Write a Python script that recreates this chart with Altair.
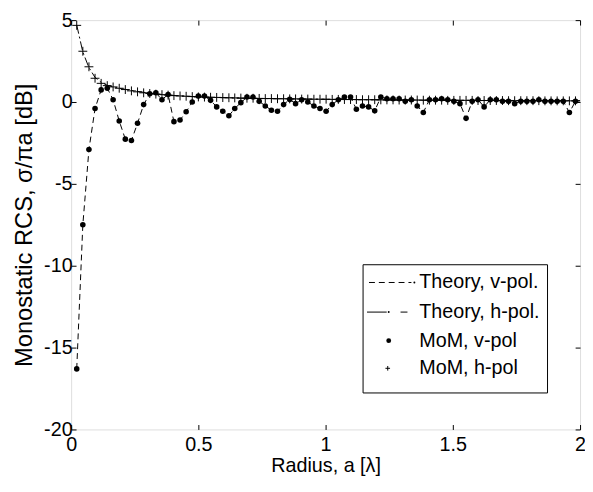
import altair as alt
import pandas as pd

# ---- data ----
radius = [0.022, 0.046, 0.070, 0.094, 0.118, 0.142, 0.165, 0.189, 0.213, 0.237,
          0.261, 0.285, 0.309, 0.333, 0.357, 0.381, 0.404, 0.428, 0.452, 0.476,
          0.500, 0.524, 0.548, 0.572, 0.596, 0.620, 0.643, 0.667, 0.691, 0.715,
          0.739, 0.763, 0.787, 0.811, 0.835, 0.859, 0.882, 0.906, 0.930, 0.954,
          0.978, 1.002, 1.026, 1.050, 1.074, 1.098, 1.121, 1.145, 1.169, 1.193,
          1.217, 1.241, 1.265, 1.289, 1.313, 1.337, 1.360, 1.384, 1.408, 1.432,
          1.456, 1.480, 1.504, 1.528, 1.552, 1.576, 1.599, 1.623, 1.647, 1.671,
          1.695, 1.719, 1.743, 1.767, 1.791, 1.815, 1.838, 1.862, 1.886, 1.910,
          1.934, 1.958, 1.982]

mom_v = [-16.3, -7.5, -2.9, -0.4, 0.74, 0.84, 0.14, -1.16, -2.27, -2.35,
         -1.3, -0.16, 0.5, 0.56, 0.14, 0.46, -1.2, -1.1, -0.6, 0.0,
         0.36, 0.36, 0.1, -0.3, -0.56, -0.84, -0.4, -0.04, 0.3, 0.3,
         0.04, -0.24, -0.5, -0.56, -0.16, 0.16, -0.1, 0.14, 0.0, -0.24,
         -0.4, -0.56, -0.16, 0.14, 0.3, 0.3, -0.44, -0.24, -0.3, -0.54,
         0.3, 0.2, 0.2, 0.2, 0.04, 0.14, -0.24, -0.64, 0.14, 0.14,
         0.2, 0.14, 0.04, -0.1, -1.0, 0.04, 0.14, -0.3, 0.14, 0.14,
         0.04, 0.04, -0.1, 0.04, 0.04, 0.04, 0.14, 0.04, 0.04, 0.04,
         0.04, -0.64, 0.04]

mom_h = [4.68, 3.1, 2.15, 1.45, 1.14, 1.0, 0.92, 0.84, 0.76, 0.68,
         0.62, 0.56, 0.52, 0.48, 0.45, 0.42, 0.39, 0.37, 0.35, 0.33,
         0.31, 0.3, 0.29, 0.28, 0.27, 0.26, 0.25, 0.24, 0.23, 0.23,
         0.22, 0.21, 0.21, 0.2, 0.2, 0.19, 0.19, 0.18, 0.18, 0.17,
         0.17, 0.17, 0.16, 0.16, 0.15, 0.15, 0.15, 0.14, 0.14, 0.14,
         0.13, 0.13, 0.13, 0.12, 0.12, 0.12, 0.12, 0.11, 0.11, 0.11,
         0.11, 0.1, 0.1, 0.1, 0.1, 0.1, 0.09, 0.09, 0.09, 0.09,
         0.09, 0.08, 0.08, 0.08, 0.08, 0.08, 0.08, 0.07, 0.07, 0.07,
         0.07, 0.07, 0.07]

theory_x = [0.022, 0.046, 0.070, 0.094, 0.118, 0.142, 0.165, 0.189, 0.213, 0.25,
            0.3, 0.35, 0.4, 0.5, 0.6, 0.7, 0.8, 1.0, 1.2, 1.4, 1.6, 1.8, 2.0]
theory_h = [4.7, 3.05, 2.1, 1.5, 1.2, 1.02, 0.92, 0.84, 0.77, 0.67,
            0.56, 0.47, 0.4, 0.31, 0.26, 0.22, 0.2, 0.16, 0.13, 0.11, 0.1, 0.09, 0.08]

legend_labels = ["Theory, v-pol.", "Theory, h-pol.", "MoM, v-pol", "MoM, h-pol"]
x_ticks = [0, 0.5, 1, 1.5, 2]
y_ticks = [-20, -15, -10, -5, 0, 5]

df_mom = pd.DataFrame({"x": radius, "v": mom_v, "h": mom_h})
df_th = pd.DataFrame({"x": theory_x, "h": theory_h})

FONT = "Liberation Sans"
W, H = 516, 415

xs = alt.Scale(domain=[0, 2], nice=False, zero=False)
ys = alt.Scale(domain=[-20, 5], nice=False, zero=False)

tick_in = alt.ExprRef(expr="-5")

x_axis = alt.Axis(values=x_ticks, labelExpr="'' + datum.value", title="Radius, a [λ]",
                  grid=False, domain=False, tickColor="black", tickSize=tick_in,
                  labelFlush=False, labelOverlap=False, labelPadding=10,
                  labelFont=FONT, labelFontSize=20, labelColor="black",
                  titleFont=FONT, titleFontSize=20, titleFontWeight="normal",
                  titleColor="black", titlePadding=2)
y_axis = alt.Axis(values=y_ticks, labelExpr="'' + datum.value",
                  title="Monostatic RCS, σ/πa [dB]",
                  grid=False, domain=False, tickColor="black", tickSize=tick_in,
                  labelFlush=False, labelOverlap=False, labelPadding=4,
                  labelFont=FONT, labelFontSize=20, labelColor="black",
                  titleFont=FONT, titleFontSize=24, titleFontWeight="normal",
                  titleColor="black", titlePadding=7)

x_axis_top = alt.Axis(values=x_ticks, orient="top", labels=False, title=None, grid=False,
                      domain=False, tickColor="black", tickSize=tick_in)
y_axis_right = alt.Axis(values=y_ticks, orient="right", labels=False, title=None, grid=False,
                        domain=False, tickColor="black", tickSize=tick_in)

base = alt.Chart(df_mom)

theory_v = base.mark_line(color="black", strokeWidth=1, strokeDash=[6, 4]).encode(
    x=alt.X("x:Q", scale=xs, axis=x_axis), y=alt.Y("v:Q", scale=ys, axis=y_axis))

theory_hl = alt.Chart(df_th).mark_line(color="black", strokeWidth=1, strokeDash=[9, 3, 2, 3]).encode(
    x=alt.X("x:Q", scale=xs, axis=None), y=alt.Y("h:Q", scale=ys, axis=None))

mom_v_pts = base.mark_circle(color="black", size=32, opacity=1).encode(
    x=alt.X("x:Q", scale=xs, axis=None), y=alt.Y("v:Q", scale=ys, axis=None))

PLUS = "M-1,0H1M0,-1V1"
mom_h_pts = base.mark_point(shape=PLUS, size=81, filled=False, stroke="black",
                            strokeWidth=1, opacity=1).encode(
    x=alt.X("x:Q", scale=xs, axis=None), y=alt.Y("h:Q", scale=ys, axis=None))

frame_axes = base.mark_point(opacity=0).encode(
    x=alt.X("x:Q", scale=xs, axis=x_axis_top), y=alt.Y("h:Q", scale=ys, axis=y_axis_right))

# ---- legend (drawn in pixel space) ----
one = pd.DataFrame({"k": [0]})
LX0, LX1, LY0, LY1 = 296, 483, 248, 378
rows_y = [266, 296, 325, 353]
text_x = 353

legend_layers = [
    alt.Chart(one).mark_rect(fill="white", stroke="black", strokeWidth=1).encode(
        x=alt.value(LX0), x2=alt.value(LX1), y=alt.value(LY0), y2=alt.value(LY1)),
]
for lab, yy in zip(legend_labels, rows_y):
    legend_layers.append(
        alt.Chart(pd.DataFrame({"label": [lab]})).mark_text(
            align="left", baseline="middle", font=FONT, fontSize=20, color="black").encode(
            x=alt.value(text_x), y=alt.value(yy), text="label:N"))

# sample for theory v-pol: dashed + dot at end
legend_layers.append(alt.Chart(one).mark_rule(color="black", strokeWidth=1, strokeDash=[6, 4]).encode(
    x=alt.value(302), x2=alt.value(345), y=alt.value(rows_y[0])))
legend_layers.append(alt.Chart(one).mark_circle(color="black", size=4, opacity=1).encode(
    x=alt.value(348), y=alt.value(rows_y[0])))
# sample for theory h-pol: solid, dot, dash
legend_layers.append(alt.Chart(one).mark_rule(color="black", strokeWidth=1).encode(
    x=alt.value(300), x2=alt.value(320), y=alt.value(rows_y[1])))
legend_layers.append(alt.Chart(one).mark_circle(color="black", size=4, opacity=1).encode(
    x=alt.value(322), y=alt.value(rows_y[1])))
legend_layers.append(alt.Chart(one).mark_rule(color="black", strokeWidth=1).encode(
    x=alt.value(334), x2=alt.value(341), y=alt.value(rows_y[1])))
# MoM v-pol dot
legend_layers.append(alt.Chart(one).mark_circle(color="black", size=24, opacity=1).encode(
    x=alt.value(322), y=alt.value(rows_y[2])))
# MoM h-pol plus
legend_layers.append(alt.Chart(one).mark_point(shape=PLUS, size=22, filled=False, stroke="black",
                                                strokeWidth=1, opacity=1).encode(
    x=alt.value(321), y=alt.value(rows_y[3])))

chart = alt.layer(theory_v, theory_hl, mom_v_pts, mom_h_pts, frame_axes, *legend_layers).resolve_axis(
    x="independent", y="independent"
).properties(
    width=W, height=H,
    autosize=alt.AutoSizeParams(type="none"),
    padding={"left": 64, "top": 9, "right": 5, "bottom": 52},
).configure_view(stroke="black", strokeWidth=1.2).configure(background="white")

chart.save("out.html", embed_options={"renderer": "svg", "actions": False})
